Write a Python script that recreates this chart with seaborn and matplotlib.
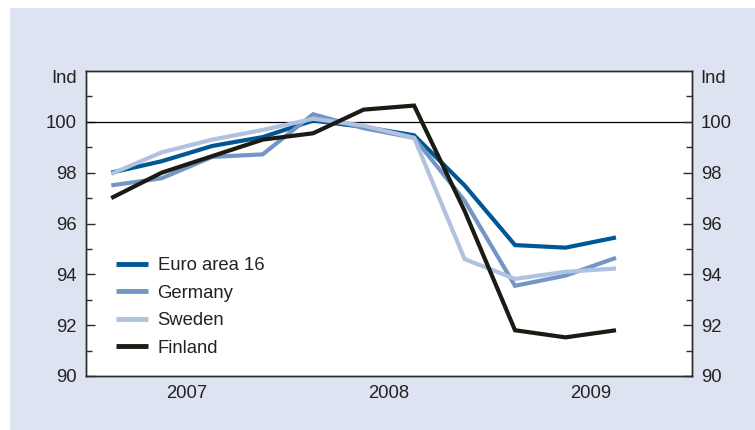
import matplotlib
matplotlib.use("Agg")
import matplotlib.pyplot as plt
from matplotlib.patches import Rectangle
from matplotlib.ticker import FixedLocator, FixedFormatter, NullFormatter
import matplotlib.transforms as mtransforms
import numpy as np
import pandas as pd
import seaborn as sns

# Quarterly index values, 2007 Q1 - 2009 Q3
quarters = ["2007Q1", "2007Q2", "2007Q3", "2007Q4",
            "2008Q1", "2008Q2", "2008Q3", "2008Q4",
            "2009Q1", "2009Q2", "2009Q3"]
euro_area = [98.0, 98.45, 99.05, 99.4, 100.05, 99.8, 99.47, 97.5, 95.15, 95.05, 95.45]
germany = [97.5, 97.78, 98.62, 98.72, 100.3, 99.75, 99.37, 96.9, 93.55, 93.95, 94.65]
sweden = [97.95, 98.8, 99.3, 99.68, 100.12, 99.85, 99.37, 94.6, 93.82, 94.1, 94.23]
finland = [97.0, 98.0, 98.65, 99.3, 99.55, 100.48, 100.64, 96.5, 91.8, 91.52, 91.8]

series_names = ["Euro area 16", "Germany", "Sweden", "Finland"]
series_values = [euro_area, germany, sweden, finland]
colors = {"Euro area 16": "#005796", "Germany": "#7396c6",
          "Sweden": "#b1c2e0", "Finland": "#1b1b14"}

year_labels = ["2007", "2008", "2009"]
y_major = [90, 92, 94, 96, 98, 100]
y_minor = [91, 93, 95, 97, 99, 101]

# position of each quarter at the middle of its slot on the time axis
pos = np.arange(len(quarters)) + 0.5
df = pd.concat([
    pd.DataFrame({"pos": pos, "value": vals, "series": name})
    for name, vals in zip(series_names, series_values)
], ignore_index=True)

FS = 13.3
TXT = "#222222"
AXC = "#2a2a2a"

sns.set_style("white")
plt.rcParams["font.family"] = ["Liberation Sans", "DejaVu Sans"]
plt.rcParams["font.size"] = FS

fig = plt.figure(figsize=(7.55, 4.30), dpi=100, facecolor="white")
bg = "#dde3f0"
fig.patches.append(Rectangle((10 / 755, 0), 1 - 10 / 755, 1 - 8 / 430,
                             transform=fig.transFigure, facecolor=bg,
                             edgecolor="none", zorder=-10))

ax = fig.add_axes([86 / 755, 1 - 376 / 430, (691.7 - 86) / 755, (376 - 71) / 430])
ax.set_facecolor("white")

ax.axhline(100, color="black", lw=0.9, zorder=1)

sns.lineplot(data=df, x="pos", y="value", hue="series", hue_order=series_names,
             palette=colors, linewidth=3.0, ax=ax, legend=True, zorder=3,
             sort=False)
for line in ax.lines[1:]:
    line.set_solid_joinstyle("miter")
    line.set_solid_capstyle("butt")

ax.set_xlim(0, 12)
ax.set_ylim(90, 102)
ax.set_xlabel("")
ax.set_ylabel("")

for s in ax.spines.values():
    s.set_color(AXC)
    s.set_linewidth(1.0)

# x axis: long ticks at year boundaries, short ticks at quarters, years centred
ax.xaxis.set_major_locator(FixedLocator([0, 4, 8, 12]))
ax.xaxis.set_major_formatter(NullFormatter())
ax.xaxis.set_minor_locator(FixedLocator([1, 2, 3, 5, 6, 7, 9, 10, 11]))
ax.xaxis.set_minor_formatter(FixedFormatter(["", year_labels[0], "", "",
                                             year_labels[1], "", "",
                                             year_labels[2], ""]))
ax.tick_params(axis="x", which="major", direction="in", length=6.5, width=1.0,
               color=AXC)
ax.tick_params(axis="x", which="minor", direction="in", length=3.8, width=1.0,
               color=AXC, pad=6.5, labelsize=FS, labelcolor=TXT)

ax.yaxis.set_major_locator(FixedLocator(y_major))
ax.yaxis.set_minor_locator(FixedLocator(y_minor))
ax.tick_params(axis="y", which="major", direction="in", length=6.5, width=1.0,
               color=AXC, pad=6.5, labelsize=FS, labelcolor=TXT)
ax.tick_params(axis="y", which="minor", direction="in", length=4.3, width=1.0,
               color=AXC)

ax2 = ax.twinx()
ax2.set_ylim(90, 102)
ax2.yaxis.set_major_locator(FixedLocator(y_major))
ax2.yaxis.set_minor_locator(FixedLocator(y_minor))
ax2.tick_params(axis="y", which="major", direction="in", length=6.5, width=1.0,
                color=AXC, pad=6.5, labelsize=FS, labelcolor=TXT)
ax2.tick_params(axis="y", which="minor", direction="in", length=4.3, width=1.0,
                color=AXC)
for s in ax2.spines.values():
    s.set_color(AXC)
    s.set_linewidth(1.0)

# unit labels at the top of both value axes
off = 6.5 / 72
tl = mtransforms.offset_copy(ax.get_yaxis_transform(), fig=fig, x=-off, y=0, units="inches")
tr = mtransforms.offset_copy(ax.get_yaxis_transform(), fig=fig, x=off, y=0, units="inches")
ax.text(0, 101.72, "Ind", transform=tl, ha="right", va="center",
        fontsize=FS, color=TXT)
ax.text(1, 101.72, "Ind", transform=tr, ha="left", va="center",
        fontsize=FS, color=TXT)

leg = ax.legend(loc="upper left", bbox_to_anchor=(0.0495, 0.39), frameon=False,
                handlelength=1.75, handletextpad=0.5, labelspacing=0.57,
                borderpad=0, borderaxespad=0, fontsize=FS)
for h in leg.get_lines():
    h.set_linewidth(3.5)
    h.set_solid_capstyle("butt")
for t in leg.get_texts():
    t.set_color(TXT)

fig.savefig("out.png", dpi=100, facecolor=fig.get_facecolor())
